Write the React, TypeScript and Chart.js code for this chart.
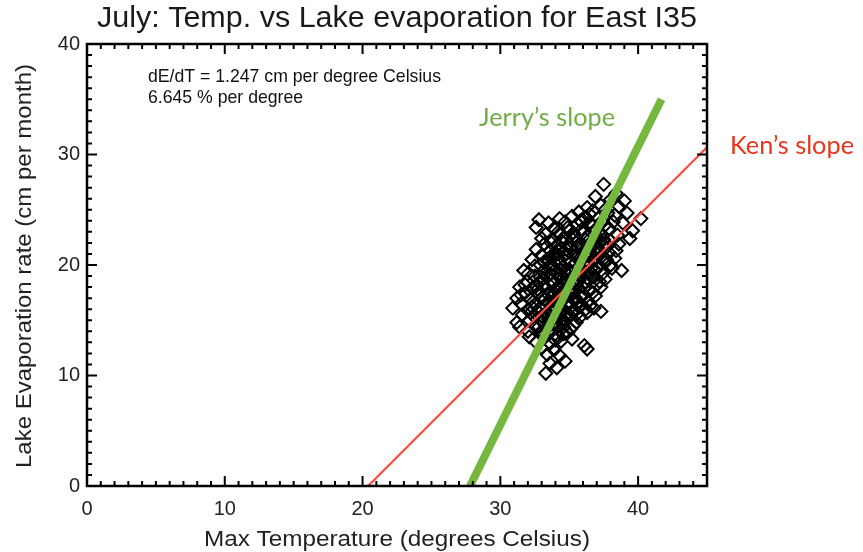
import React, { useEffect, useRef } from "react";
import { Chart, registerables } from "chart.js";

Chart.register(...registerables);

const chartTitle = "July: Temp. vs Lake evaporation for East I35";
const xAxisTitle = "Max Temperature (degrees Celsius)";
const yAxisTitle = "Lake Evaporation rate (cm per month)";
const annotationLines = ["dE/dT = 1.247 cm per degree Celsius", "6.645 % per degree"];
const xTickValues = [0, 10, 20, 30, 40];
const yTickValues = [0, 10, 20, 30, 40];

// [max temperature (°C), lake evaporation (cm/month)]
const observations: [number, number][] = [
  [37.5, 27.3], [38.4, 26.5], [36.9, 26.2], [38.0, 25.9], [39.0, 25.8],
  [36.3, 25.2], [37.3, 25.4], [38.6, 25.3],
  [35.7, 24.8], [36.7, 24.9], [37.8, 24.7], [39.2, 24.7],
  [32.8, 24.1], [34.3, 24.2], [35.2, 24.4], [36.1, 24.3], [37.1, 24.2], [38.3, 24.5], [40.2, 24.2],
  [33.5, 23.8], [34.7, 23.9], [35.6, 23.7], [36.5, 23.9], [37.6, 23.6], [38.9, 23.8], [39.6, 23.1],
  [32.6, 23.4], [33.9, 23.3], [34.9, 23.4], [35.9, 23.2], [36.9, 23.1], [37.9, 23.3],
  [33.0, 22.4], [34.3, 22.8], [35.3, 22.9], [36.3, 22.6], [37.3, 22.8], [38.5, 22.7], [39.4, 22.4],
  [33.7, 22.3], [34.6, 22.5], [35.6, 22.2], [36.6, 22.1], [37.5, 22.3],
  [33.2, 21.9], [34.1, 21.8], [35.0, 21.9], [35.9, 21.7], [36.8, 21.8], [37.7, 21.6], [38.6, 21.9],
  [32.6, 21.4], [33.6, 21.3], [34.4, 21.5], [35.3, 21.2], [36.2, 21.4], [37.1, 21.3], [37.9, 21.1],
  [33.0, 20.9], [33.9, 20.8], [34.8, 21.0], [35.6, 20.7], [36.5, 20.9], [37.4, 20.8], [38.3, 20.6],
  [32.3, 20.5], [33.4, 20.4], [34.2, 20.6], [35.1, 20.3], [35.9, 20.5], [36.8, 20.4], [37.6, 20.2],
  [32.5, 19.9], [33.7, 20.0], [34.5, 19.8], [35.4, 20.1], [36.2, 19.9], [37.1, 19.8], [38.0, 20.0], [38.8, 19.5],
  [31.7, 19.5], [33.1, 19.4], [34.0, 19.6], [34.8, 19.3], [35.7, 19.5], [36.5, 19.4], [37.4, 19.2], [38.1, 19.7],
  [32.5, 19.0], [33.4, 18.9], [34.3, 19.1], [35.1, 18.8], [35.9, 19.0], [36.8, 18.9], [37.6, 18.7],
  [31.9, 18.5], [32.8, 18.4], [33.7, 18.6], [34.5, 18.3], [35.4, 18.5], [36.2, 18.4], [37.0, 18.2],
  [31.4, 18.0], [32.3, 17.9], [33.2, 18.1], [34.0, 17.8], [34.9, 18.0], [35.7, 17.9], [36.5, 17.7], [37.3, 18.0],
  [31.8, 17.5], [32.7, 17.4], [33.6, 17.6], [34.4, 17.3], [35.2, 17.5], [36.0, 17.4], [36.9, 17.2],
  [31.2, 17.0], [32.2, 16.9], [33.1, 17.1], [33.9, 16.8], [34.7, 17.0], [35.5, 16.9], [36.4, 16.7],
  [31.5, 16.5], [32.5, 16.4], [33.4, 16.6], [34.2, 16.3], [35.0, 16.5], [35.9, 16.4], [36.8, 16.1],
  [30.9, 16.1], [32.0, 15.9], [32.9, 16.1], [33.8, 15.8], [34.6, 16.0], [35.4, 15.9], [36.3, 15.7], [37.3, 15.8],
  [31.6, 15.5], [32.4, 15.4], [33.3, 15.6], [34.1, 15.3], [35.0, 15.5], [35.8, 15.3],
  [31.2, 14.8], [32.1, 15.0], [33.0, 14.9], [33.8, 14.7], [34.6, 15.0], [35.5, 14.8],
  [31.4, 14.4], [32.5, 14.5], [33.4, 14.3], [34.2, 14.5], [35.1, 14.2],
  [32.0, 14.0], [32.9, 13.9], [33.7, 14.0], [34.6, 13.8],
  [32.1, 13.5], [33.2, 13.4], [34.1, 13.6], [35.2, 13.3],
  [32.6, 13.0], [33.6, 12.9], [34.4, 13.1],
  [33.0, 12.5], [33.9, 12.3], [36.1, 12.7], [36.3, 12.4],
  [33.4, 11.9], [34.3, 11.8],
  [33.6, 11.1], [34.7, 11.3],
  [33.3, 10.2], [34.1, 10.7],
  [33.5, 19.8], [34.3, 20.2], [35.0, 19.6], [35.8, 20.3], [36.6, 19.7], [34.1, 18.7], [34.9, 19.1],
  [35.7, 18.6], [36.4, 19.2], [33.8, 17.2], [34.6, 17.7], [35.4, 17.1], [36.1, 17.9], [33.3, 16.3],
  [34.0, 16.1], [34.9, 16.6], [35.7, 16.2], [34.4, 15.6], [33.5, 15.1], [35.3, 15.7], [34.8, 21.4],
  [35.6, 21.6], [36.4, 21.1], [34.0, 21.1], [35.2, 22.4], [36.0, 22.9], [36.9, 22.4], [33.9, 14.6],
  [34.6, 14.4], [32.8, 15.7], [36.9, 20.7], [37.7, 21.9], [33.1, 18.8], [32.6, 18.1],
  [33.2, 20.3], [34.0, 20.9], [34.7, 20.4], [35.5, 20.9], [36.3, 20.2], [37.0, 21.0], [33.6, 19.2],
  [34.4, 19.5], [35.2, 19.9], [36.0, 19.6], [36.9, 19.5], [37.7, 20.5], [32.9, 18.9], [33.8, 18.3],
  [34.6, 18.9], [35.5, 18.2], [36.3, 18.8], [37.2, 18.5], [32.7, 17.8], [33.5, 17.3], [34.2, 17.9],
  [35.1, 17.8], [35.9, 17.1], [36.7, 17.5], [32.4, 16.7], [33.2, 16.9], [34.0, 16.6], [34.8, 17.3],
  [35.6, 16.6], [36.5, 16.3], [32.2, 15.7], [33.0, 15.4], [33.9, 16.3], [34.7, 15.4], [35.6, 15.6],
  [36.2, 16.0], [32.8, 14.4], [33.6, 14.8], [34.4, 14.9], [35.3, 14.5], [33.1, 13.8], [34.0, 13.2],
  [34.9, 13.9], [33.7, 22.0], [34.5, 22.1], [35.4, 22.6], [36.2, 22.3], [37.0, 22.6], [34.2, 23.0],
  [35.0, 23.1], [35.9, 23.9], [36.7, 23.5], [37.4, 24.0], [33.3, 22.8], [35.8, 24.0], [36.5, 24.6],
  [37.6, 25.0], [38.2, 23.9], [38.0, 22.2], [38.4, 21.3], [32.9, 20.0], [33.6, 20.7], [32.0, 19.2],
  [31.8, 18.2], [31.5, 17.3], [32.3, 16.2], [35.1, 21.6], [36.0, 21.2], [36.8, 21.3], [34.3, 21.3],
  [35.7, 19.0], [34.9, 18.4], [33.9, 17.5], [35.3, 16.9], [34.3, 16.2], [33.6, 16.0],
];

// Ken's slope (regression line, 1.247 cm per degree)
const kenLineX = [20.4, 45];
const kenLineY = [0, 30.66];
// Jerry's slope
const jerryLineX = [27.8, 41.7];
const jerryLineY = [0, 35.0];

const W = 863;
const H = 552;

function fitText(
  ctx: CanvasRenderingContext2D,
  text: string,
  x: number,
  y: number,
  width: number,
  font: string,
  align: CanvasTextAlign,
  color: string,
  fixedScale?: number
): number {
  ctx.save();
  ctx.font = font;
  ctx.fillStyle = color;
  ctx.textBaseline = "middle";
  ctx.textAlign = align;
  const w = ctx.measureText(text).width;
  const k = fixedScale ?? width / w;
  ctx.translate(x, y);
  ctx.scale(k, 1);
  ctx.fillText(text, 0, 0);
  ctx.restore();
  return k;
}

const framePlugin = {
  id: "idlFrame",
  afterDraw(chart: any) {
    const ctx: CanvasRenderingContext2D = chart.ctx;
    const { left, right, top, bottom } = chart.chartArea;
    const xs = chart.scales.x;
    const ys = chart.scales.y;
    ctx.save();
    ctx.strokeStyle = "#000";
    ctx.lineWidth = 2;
    for (let v = 0; v <= 45; v += 1) {
      const px = xs.getPixelForValue(v);
      const len = v % 10 === 0 ? 10 : 5;
      ctx.beginPath();
      ctx.moveTo(px, bottom);
      ctx.lineTo(px, bottom - len);
      ctx.moveTo(px, top);
      ctx.lineTo(px, top + len);
      ctx.stroke();
    }
    for (let v = 0; v <= 40; v += 1) {
      const py = ys.getPixelForValue(v);
      const len = v % 10 === 0 ? 10 : 5;
      ctx.beginPath();
      ctx.moveTo(left, py);
      ctx.lineTo(left + len, py);
      ctx.moveTo(right, py);
      ctx.lineTo(right - len, py);
      ctx.stroke();
    }
    ctx.lineWidth = 2.5;
    ctx.strokeRect(left, top, right - left, bottom - top);
    ctx.restore();

    const sans = '"Liberation Sans Narrow", "Liberation Sans", Arial, sans-serif';
    fitText(ctx, chartTitle, 397, 19, 600, `29px ${sans}`, "center", "#1a1a1a");
    fitText(ctx, xAxisTitle, 397, 540, 386, `22px ${sans}`, "center", "#222");
    ctx.save();
    ctx.translate(25, 266);
    ctx.rotate(-Math.PI / 2);
    fitText(ctx, yAxisTitle, 0, 0, 404, `22px ${sans}`, "center", "#222");
    ctx.restore();
    const k = fitText(ctx, annotationLines[0], 148, 77, 293, `19px ${sans}`, "left", "#111");
    fitText(ctx, annotationLines[1], 148, 98, 0, `19px ${sans}`, "left", "#111", k);
    fitText(ctx, "Jerry\u2019s slope", 479, 118, 136, `25px Lato, "Open Sans", sans-serif`, "left", "#70ad47");
    fitText(ctx, "Ken\u2019s slope", 730, 146, 124, `25px Lato, "Open Sans", sans-serif`, "left", "#e8341c");
  },
};

export default function App() {
  const canvasRef = useRef<HTMLCanvasElement | null>(null);

  useEffect(() => {
    if (!canvasRef.current) return;
    const chart = new Chart(canvasRef.current, {
      type: "scatter",
      data: {
        datasets: [
          {
            label: "Observations",
            data: observations.map(([x, y]) => ({ x, y })),
            pointStyle: "rectRot",
            pointRadius: 6.5,
            borderColor: "#000",
            backgroundColor: "rgba(0,0,0,0)",
            borderWidth: 2,
            showLine: false,
            order: 3,
          },
          {
            type: "line",
            label: "Ken's slope",
            data: kenLineX.map((x, i) => ({ x, y: kenLineY[i] })),
            borderColor: "#ff4a3a",
            borderWidth: 2.2,
            pointRadius: 0,
            showLine: true,
            order: 2,
          } as any,
          {
            type: "line",
            label: "Jerry's slope",
            data: jerryLineX.map((x, i) => ({ x, y: jerryLineY[i] })),
            borderColor: "#76b83f",
            borderWidth: 8,
            borderCapStyle: "butt",
            pointRadius: 0,
            showLine: true,
            order: 1,
          } as any,
        ],
      },
      options: {
        animation: false,
        responsive: false,
        devicePixelRatio: 1,
        layout: { padding: { top: 44, right: 156, bottom: 0, left: 0 } },
        plugins: {
          legend: { display: false },
          tooltip: { enabled: false },
          title: { display: false },
        },
        scales: {
          x: {
            type: "linear",
            min: 0,
            max: 45,
            grid: { display: false, drawTicks: false },
            border: { display: false },
            afterFit: (s: any) => {
              s.height = 66;
            },
            afterBuildTicks: (s: any) => {
              s.ticks = xTickValues.map((v) => ({ value: v }));
            },
            ticks: {
              padding: 11,
              color: "#222",
              font: { family: '"Liberation Sans", Arial, sans-serif', size: 20 },
              callback: (v: any) => String(v),
            },
          },
          y: {
            type: "linear",
            min: 0,
            max: 40,
            grid: { display: false, drawTicks: false },
            border: { display: false },
            afterFit: (s: any) => {
              s.width = 87;
            },
            afterBuildTicks: (s: any) => {
              s.ticks = yTickValues.map((v) => ({ value: v }));
            },
            ticks: {
              padding: 7,
              color: "#222",
              font: { family: '"Liberation Sans", Arial, sans-serif', size: 20 },
              callback: (v: any) => String(v),
            },
          },
        },
      },
      plugins: [framePlugin],
    });
    return () => chart.destroy();
  }, []);

  return (
    <div style={{ position: "absolute", left: 0, top: 0, width: W, height: H, background: "#fff" }}>
      <canvas ref={canvasRef} width={W} height={H} style={{ display: "block", width: W, height: H }} />
    </div>
  );
}
